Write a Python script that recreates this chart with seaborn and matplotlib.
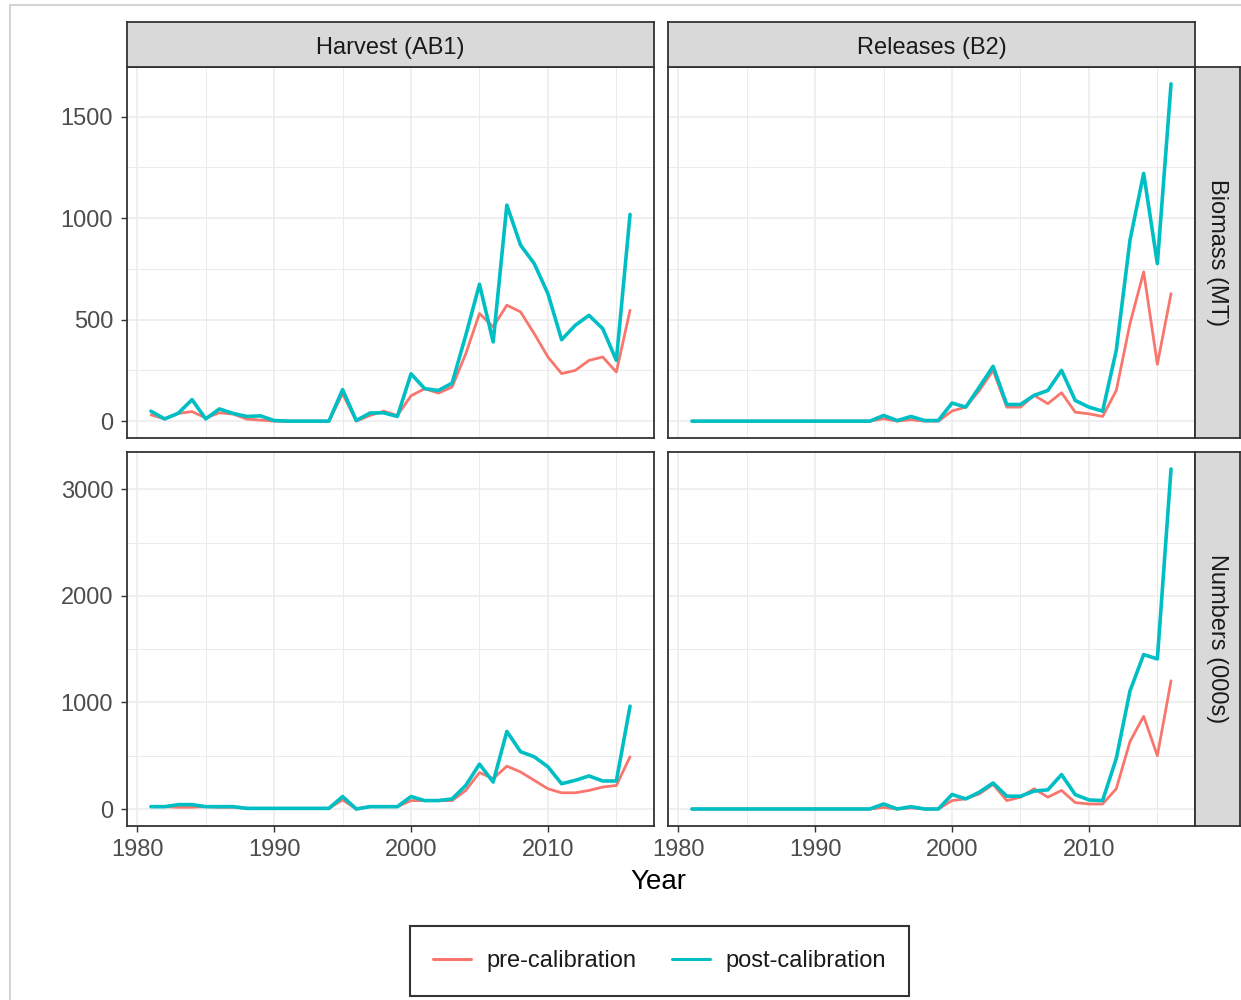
import numpy as np
import pandas as pd
import matplotlib
matplotlib.use("Agg")
import matplotlib.pyplot as plt
from matplotlib.lines import Line2D
import seaborn as sns

# ---- data -------------------------------------------------------------
years = list(range(1981, 2017))

sources = ["Harvest (AB1)", "Releases (B2)"]
metrics = ["Biomass (MT)", "Numbers (000s)"]
series_names = ["pre-calibration", "post-calibration"]

harvest_biomass_pre = [31, 11, 38, 47, 16, 41, 35, 10, 5, 0, 0, 0, 0, 0, 135, 0, 28, 49, 28,
                       125, 160, 138, 168, 332, 530, 464, 571, 538, 431, 316, 234, 250, 299,
                       316, 242, 546]
harvest_biomass_post = [49, 11, 39, 106, 11, 60, 38, 23, 26, 3, 0, 0, 0, 0, 155, 3, 40, 41, 23,
                        233, 160, 151, 187, 423, 674, 390, 1064, 867, 776, 628, 401, 472, 521,
                        456, 299, 1018]
releases_biomass_pre = [0] * 14 + [12, 0, 7, 0, 0, 50, 69, 151, 250, 69, 69, 127, 86, 140, 44,
                                   36, 23, 151, 480, 735, 280, 628]
releases_biomass_post = [0] * 14 + [28, 3, 23, 3, 3, 89, 69, 168, 270, 82, 82, 127, 151, 250,
                                    102, 69, 49, 349, 891, 1220, 776, 1661]
harvest_numbers_pre = [22, 22, 16, 16, 22, 16, 16, 6, 6, 6, 6, 6, 6, 6, 85, 0, 22, 22, 22,
                       79, 79, 79, 79, 174, 342, 285, 402, 348, 269, 190, 152, 152, 174, 206,
                       221, 490]
harvest_numbers_post = [22, 22, 41, 41, 22, 22, 22, 6, 6, 6, 6, 6, 6, 6, 117, 0, 22, 22, 22,
                        117, 79, 79, 95, 221, 421, 253, 728, 538, 490, 396, 237, 269, 310, 263,
                        263, 965]
releases_numbers_pre = [0] * 14 + [15, 0, 10, 0, 0, 79, 95, 142, 231, 79, 111, 190, 111, 174,
                                   60, 47, 47, 190, 633, 870, 500, 1203]
releases_numbers_post = [0] * 14 + [47, 0, 22, 0, 0, 136, 95, 158, 244, 120, 120, 168, 180, 323,
                                    135, 85, 79, 475, 1108, 1449, 1408, 3190]

values = {
    ("Biomass (MT)", "Harvest (AB1)", "pre-calibration"): harvest_biomass_pre,
    ("Biomass (MT)", "Harvest (AB1)", "post-calibration"): harvest_biomass_post,
    ("Biomass (MT)", "Releases (B2)", "pre-calibration"): releases_biomass_pre,
    ("Biomass (MT)", "Releases (B2)", "post-calibration"): releases_biomass_post,
    ("Numbers (000s)", "Harvest (AB1)", "pre-calibration"): harvest_numbers_pre,
    ("Numbers (000s)", "Harvest (AB1)", "post-calibration"): harvest_numbers_post,
    ("Numbers (000s)", "Releases (B2)", "pre-calibration"): releases_numbers_pre,
    ("Numbers (000s)", "Releases (B2)", "post-calibration"): releases_numbers_post,
}

rows = []
for (metric, source, series), vals in values.items():
    for yr, v in zip(years, vals):
        rows.append({"Year": yr, "value": v, "metric": metric,
                     "source": source, "series": series})
df = pd.DataFrame(rows)

# ---- style ------------------------------------------------------------
sns.set_theme(style="white")
plt.rcParams["font.family"] = ["Liberation Sans", "DejaVu Sans"]

colors = {"pre-calibration": "#F8766D", "post-calibration": "#00BFC4"}
widths = {"pre-calibration": 2.0, "post-calibration": 2.6}
border = "#333333"
grid_col = "#EBEBEB"
tick_col = "#4D4D4D"
FS = 17

W, H = 1241, 1000
fig = plt.figure(figsize=(W / 100, H / 100), dpi=100)
fig.patch.set_facecolor("white")


def rect(x0, y0, x1, y1):
    return [x0 / W, 1 - y1 / H, (x1 - x0) / W, (y1 - y0) / H]


# light frame around the figure
fig.add_artist(Line2D([10 / W, 10 / W], [0, 1 - 5 / H], color="#D4D4D4", lw=1.5,
                      transform=fig.transFigure))
fig.add_artist(Line2D([10 / W, 1], [1 - 5 / H, 1 - 5 / H], color="#D4D4D4", lw=1.5,
                      transform=fig.transFigure))

col_x = {"Harvest (AB1)": (127, 654), "Releases (B2)": (668, 1195)}
row_y = {"Biomass (MT)": (67, 438), "Numbers (000s)": (452, 826)}
major_y = {"Biomass (MT)": [0, 500, 1000, 1500], "Numbers (000s)": [0, 1000, 2000, 3000]}
minor_y = {"Biomass (MT)": [250, 750, 1250], "Numbers (000s)": [500, 1500, 2500]}

x_lo, x_hi = min(years), max(years)
x_pad = 0.05 * (x_hi - x_lo)

for r, metric in enumerate(metrics):
    sub_m = df[df["metric"] == metric]
    y_lo, y_hi = sub_m["value"].min(), sub_m["value"].max()
    y_pad = 0.05 * (y_hi - y_lo)
    for c, source in enumerate(sources):
        x0, x1 = col_x[source]
        y0, y1 = row_y[metric]
        ax = fig.add_axes(rect(x0, y0, x1, y1))
        ax.set_facecolor("white")
        sub = sub_m[sub_m["source"] == source]
        for s in series_names:
            sns.lineplot(data=sub[sub["series"] == s], x="Year", y="value",
                         color=colors[s], lw=widths[s], ax=ax, legend=False,
                         zorder=3)
        ax.set_xlim(x_lo - x_pad, x_hi + x_pad)
        ax.set_ylim(y_lo - y_pad, y_hi + y_pad)
        ax.set_xticks([1980, 1990, 2000, 2010])
        ax.set_xticks([1985, 1995, 2005, 2015], minor=True)
        ax.set_yticks(major_y[metric])
        ax.set_yticks(minor_y[metric], minor=True)
        ax.grid(True, which="major", color=grid_col, lw=1.1, zorder=0)
        ax.grid(True, which="minor", color=grid_col, lw=0.7, zorder=0)
        ax.set_axisbelow(True)
        for sp in ax.spines.values():
            sp.set_color(border)
            sp.set_linewidth(1.3)
        ax.set_xlabel("")
        ax.set_ylabel("")
        ax.tick_params(which="minor", length=0)
        ax.tick_params(which="major", length=4, width=1.0, color=border,
                       labelsize=FS, labelcolor=tick_col)
        ax.tick_params(axis="y", pad=6)
        ax.tick_params(axis="x", pad=5)
        if c == 0:
            ax.tick_params(axis="y", left=True, labelleft=True)
        else:
            ax.tick_params(axis="y", left=False, labelleft=False)
        if r == 1:
            ax.tick_params(axis="x", bottom=True, labelbottom=True)
        else:
            ax.tick_params(axis="x", bottom=False, labelbottom=False)

        # column strips
        if r == 0:
            sax = fig.add_axes(rect(x0, 22, x1, 67))
            sax.set_facecolor("#D9D9D9")
            sax.set_xticks([])
            sax.set_yticks([])
            for sp in sax.spines.values():
                sp.set_color(border)
                sp.set_linewidth(1.3)
            sax.text(0.5, 0.42, source, ha="center", va="center", fontsize=FS,
                     color="#1A1A1A", transform=sax.transAxes)
        # row strips
        if c == 1:
            sax = fig.add_axes(rect(1195, y0, 1240, y1))
            sax.set_facecolor("#D9D9D9")
            sax.set_xticks([])
            sax.set_yticks([])
            for sp in sax.spines.values():
                sp.set_color(border)
                sp.set_linewidth(1.3)
            sax.text(0.5, 0.5, metric, ha="center", va="center", fontsize=FS,
                     color="#1A1A1A", rotation=-90, transform=sax.transAxes)

fig.text(658 / W, 1 - 882 / H, "Year", ha="center", va="center", fontsize=20,
         color="black")

handles = [Line2D([], [], color=colors[s], lw=2.2) for s in series_names]
leg = fig.legend(handles, series_names, loc="center",
                 bbox_to_anchor=(659.5 / W, 1 - 961 / H), ncol=2, frameon=True,
                 fontsize=FS, handlelength=1.6, handletextpad=0.65,
                 columnspacing=1.5, borderpad=1.0, fancybox=False)
leg.get_frame().set_edgecolor("black")
leg.get_frame().set_linewidth(1.5)
for t in leg.get_texts():
    t.set_color("#1A1A1A")

fig.savefig("out.png", dpi=100)
